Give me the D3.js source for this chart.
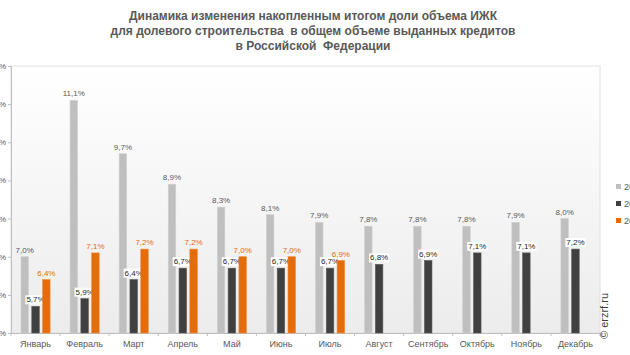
<!DOCTYPE html>
<html>
<head>
<meta charset="utf-8">
<script src="https://cdn.jsdelivr.net/npm/d3@7/dist/d3.min.js"></script>
<style>
  html, body { margin: 0; padding: 0; background: #ffffff; }
  svg { display: block; font-family: "Liberation Sans", Arial, sans-serif; }
</style>
</head>
<body>
<svg id="chart" width="630" height="355"></svg>
<script>
const titleLines = [
  "Динамика изменения накопленным итогом доли объема ИЖК",
  "для долевого строительства  в общем объеме выданных кредитов",
  "в Российской  Федерации"
];
const months = ["Январь","Февраль","Март","Апрель","Май","Июнь","Июль","Август","Сентябрь","Октябрь","Ноябрь","Декабрь"];
const seriesNames = ["2016","2017","2018"];
const seriesA = [7.0, 11.1, 9.7, 8.9, 8.3, 8.1, 7.9, 7.8, 7.8, 7.8, 7.9, 8.0];
const seriesB = [5.7, 5.9, 6.4, 6.7, 6.7, 6.7, 6.7, 6.8, 6.9, 7.1, 7.1, 7.2];
const seriesC = [6.4, 7.1, 7.2, 7.2, 7.0, 7.0, 6.9];
const yTicks = [5, 6, 7, 8, 9, 10, 11, 12];
const colors = ["#bfbfbf", "#404040", "#e46c0a"];
const labelColors = ["#595959", "#262626", "#e46c0a"];

const svg = d3.select("#chart");
const plot = {left: 11, right: 600, top: 66, bottom: 333};

const defs = svg.append("defs");
const grad = defs.append("linearGradient").attr("id","bg").attr("x1",0).attr("y1",0).attr("x2",0).attr("y2",1);
grad.append("stop").attr("offset","0%").attr("stop-color","#ffffff");
grad.append("stop").attr("offset","100%").attr("stop-color","#ececec");

svg.append("rect").attr("x",plot.left).attr("y",plot.top)
  .attr("width",plot.right-plot.left).attr("height",plot.bottom-plot.top)
  .attr("fill","url(#bg)").attr("stroke","#e0e0e0").attr("stroke-width",1);

const title = svg.append("text").attr("text-anchor","middle").attr("fill","#595959")
  .attr("font-weight","bold").attr("font-size","12px");
titleLines.forEach((t,i)=>{
  title.append("tspan").attr("x",313).attr("y",20 + i*15).attr("xml:space","preserve").text(t);
});

const x = d3.scaleBand().domain(months).range([plot.left, plot.right]).padding(0);
const y = d3.scaleLinear().domain([5, 12]).range([plot.bottom, plot.top]);

const yAxis = d3.axisLeft(y).tickValues(yTicks).tickSize(3).tickPadding(2)
  .tickFormat(d => d + "%");
const gy = svg.append("g").attr("transform",`translate(${plot.left},0)`).call(yAxis);
gy.select(".domain").attr("stroke","#bfbfbf");
gy.selectAll(".tick line").attr("stroke","#bfbfbf");
gy.selectAll(".tick text").attr("fill","#595959").attr("font-size","8px").attr("font-family","Liberation Sans, Arial, sans-serif");

const xAxis = d3.axisBottom(x).tickSize(0).tickPadding(8);
const gx = svg.append("g").attr("transform",`translate(0,${plot.bottom})`).call(xAxis);
gx.select(".domain").attr("stroke","#bfbfbf");
gx.selectAll(".tick text").attr("fill","#595959").attr("font-size","9px").attr("font-family","Liberation Sans, Arial, sans-serif");
const bounds = months.map(m => x(m)).concat([plot.right]);
svg.append("g").selectAll("line").data(bounds).join("line")
  .attr("x1", d=>d).attr("x2", d=>d).attr("y1", plot.bottom).attr("y2", plot.bottom+3)
  .attr("stroke","#bfbfbf");

const allSeries = [seriesA, seriesB, seriesC];
const step = 10.8, bw = 7.5;
allSeries.forEach((vals, si) => {
  const g = svg.append("g");
  const data = vals.map((v,i)=>({m: months[i], v}));
  const cx = d => x(d.m) + x.bandwidth()/2 + (si-1)*step;
  g.selectAll("rect").data(data).join("rect")
    .attr("x", d => cx(d) - bw/2)
    .attr("y", d => y(d.v))
    .attr("width", bw)
    .attr("height", d => y(5) - y(d.v))
    .attr("fill", colors[si])
    .attr("stroke", si===0 ? "#d0d0d0" : (si===1 ? "#595959" : "#ee8a3a"))
    .attr("stroke-width", 0.6);
  const lbl = g.selectAll("g.lbl").data(data).join("g").attr("class","lbl");
  const bg = si === 1 ? lbl.append("rect").attr("fill","#ffffff") : null;
  const tx = lbl.append("text")
    .attr("x", d => cx(d)).attr("y", d => y(d.v) - 4)
    .attr("text-anchor","middle").attr("font-size","8px")
    .attr("fill", labelColors[si])
    .text(d => d.v.toFixed(1).replace(".", ",") + "%");
  if (bg) {
    tx.each(function(d, i) {
      const b = this.getBBox();
      d3.select(this.parentNode).select("rect")
        .attr("x", b.x - 1).attr("y", b.y).attr("width", b.width + 2).attr("height", b.height);
    });
  }
});

const lg = svg.append("g");
seriesNames.forEach((n,i)=>{
  lg.append("rect").attr("x",616).attr("y",184 + i*17).attr("width",5).attr("height",5).attr("fill",colors[i]);
  lg.append("text").attr("x",624).attr("y",190 + i*17).attr("font-size","9px").attr("fill","#595959").text(n);
});

svg.append("text").attr("transform","translate(608,316) rotate(-90)")
  .attr("text-anchor","middle").attr("font-size","11px").attr("fill","#404040")
  .text("© erzrf.ru");
</script>
</body>
</html>
